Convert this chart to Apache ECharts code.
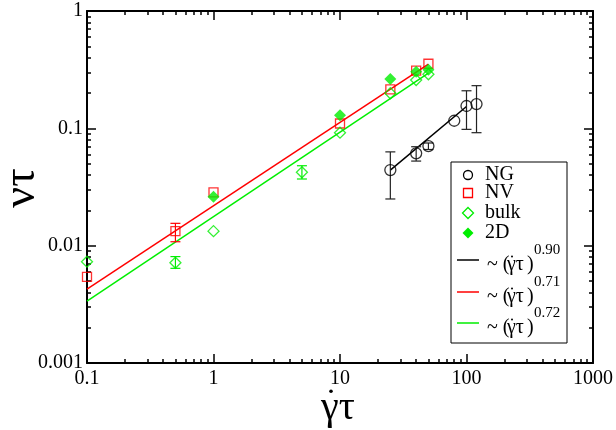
<!DOCTYPE html>
<html>
<head>
<meta charset="utf-8">
<script src="https://cdn.jsdelivr.net/npm/echarts@6/dist/echarts.min.js"></script>
<style>
html,body{margin:0;padding:0;background:#fff;}
#chart{width:616px;height:430px;}
</style>
</head>
<body>
<div id="chart"></div>
<script>
// ---- data ----
const xTicks = [0.1, 1, 10, 100, 1000];
const yTicks = [0.001, 0.01, 0.1, 1];

const ngX = [25, 40, 50, 80, 100, 120];
const ngY = [0.0441, 0.0612, 0.0706, 0.116, 0.155, 0.161];
const ngErrLo = [0.025, 0.0526, 0.066, null, 0.098, 0.0918];
const ngErrHi = [0.063, 0.0697, 0.075, null, 0.209, 0.231];

const nvX = [0.1, 0.5, 1, 10, 25, 40, 50];
const nvY = [0.00543, 0.0133, 0.0285, 0.110, 0.215, 0.31, 0.355];
const nvErrLo = [null, 0.0108, null, null, null, null, null];
const nvErrHi = [null, 0.0155, null, null, null, null, null];

const bulkX = [0.1, 0.5, 1, 5, 10, 25, 40, 50];
const bulkY = [0.0073, 0.00715, 0.0133, 0.0422, 0.0918, 0.199, 0.258, 0.289];
const bulkErrLo = [null, 0.00641, null, 0.037, null, null, null, null];
const bulkErrHi = [null, 0.00807, null, 0.048, null, null, null, null];

const d2X = [1, 10, 25, 40, 50];
const d2Y = [0.0261, 0.129, 0.263, 0.304, 0.316];

// fitted power laws (end points)
const fitNG = [[25, 0.0441], [100, 0.1536]];     // ~ x^0.90
const fitNV = [[0.1, 0.00427], [50, 0.352]];     // ~ x^0.71
const fitBulk = [[0.1, 0.00337], [50, 0.296]];   // ~ x^0.72

const legendNames = ['NG', 'NV', 'bulk', '2D'];
const fitExponents = ['0.90', '0.71', '0.72'];

// ---- helpers ----
function minorOf(majors) {
  const out = [];
  for (let i = 0; i < majors.length - 1; i++) {
    for (let k = 2; k <= 9; k++) out.push(+(majors[i] * k).toPrecision(6));
  }
  return out;
}
const xMinor = minorOf(xTicks);
const yMinor = minorOf(yTicks);

function zip(xs, ys) { return xs.map((x, i) => [x, ys[i]]); }
function errData(xs, lo, hi) {
  const out = [];
  xs.forEach((x, i) => { if (lo[i] != null) out.push([x, lo[i], hi[i]]); });
  return out;
}

const FONT = 'Liberation Serif';
const GREEN = '#00ee00';
const RED = '#ff0000';

function mkX(pos, major, labels) {
  return {
    type: 'log', logBase: 10, min: 0.1, max: 1000, position: pos,
    axisLine: { show: major, lineStyle: { color: '#000', width: 2 } },
    axisTick: { show: true, inside: true, length: major ? 9 : 4, customValues: major ? xTicks : xMinor,
      lineStyle: { color: '#000', width: 1.5 } },
    axisLabel: { show: labels, customValues: xTicks, fontFamily: FONT, fontSize: 20, color: '#000', margin: 6,
      formatter: v => String(v) },
    splitLine: { show: false }, minorTick: { show: false }
  };
}
function mkY(pos, major, labels) {
  return {
    type: 'log', logBase: 10, min: 0.001, max: 1, position: pos,
    axisLine: { show: major, lineStyle: { color: '#000', width: 2 } },
    axisTick: { show: true, inside: true, length: major ? 9 : 4, customValues: major ? yTicks : yMinor,
      lineStyle: { color: '#000', width: 1.5 } },
    axisLabel: { show: labels, customValues: yTicks, fontFamily: FONT, fontSize: 20, color: '#000', margin: 4,
      formatter: v => String(v) },
    splitLine: { show: false }, minorTick: { show: false }
  };
}

function errSeries(data, color) {
  return {
    type: 'custom', xAxisIndex: 0, yAxisIndex: 0, data: data, z: 3,
    encode: { x: 0, y: [1, 2] },
    renderItem: function (params, api) {
      const x = api.value(0);
      const pLo = api.coord([x, api.value(1)]);
      const pHi = api.coord([x, api.value(2)]);
      const w = 5;
      const st = { stroke: color, lineWidth: 1.2 };
      return { type: 'group', children: [
        { type: 'line', shape: { x1: pLo[0], y1: pLo[1], x2: pHi[0], y2: pHi[1] }, style: st },
        { type: 'line', shape: { x1: pLo[0] - w, y1: pLo[1], x2: pLo[0] + w, y2: pLo[1] }, style: st },
        { type: 'line', shape: { x1: pHi[0] - w, y1: pHi[1], x2: pHi[0] + w, y2: pHi[1] }, style: st }
      ]};
    }
  };
}
function scatter(name, data, symbol, size, color, filled) {
  return {
    name: name, type: 'scatter', data: data, symbol: symbol, symbolSize: size, z: 4,
    itemStyle: { color: filled ? color : 'rgba(0,0,0,0)', borderColor: color, borderWidth: filled ? 0 : 1.3 },
    emphasis: { disabled: true }
  };
}
function fit(data, color) {
  return { type: 'line', data: data, showSymbol: false, symbol: 'none', z: 2,
    lineStyle: { color: color, width: 1.5 }, emphasis: { disabled: true } };
}

// "γ̇τ" drawn as γτ plus a dot above the γ
function gammaDotTau(x, y, size, z) {
  return [
    { type: 'text', x: x, y: y, z: z,
      style: { text: '\u03B3\u03C4', fontFamily: FONT, fontSize: size, fill: '#000', verticalAlign: 'middle', align: 'left' } },
    { type: 'circle', shape: { cx: x + size * 0.25, cy: y - size * 0.42, r: Math.max(1, size * 0.045) }, style: { fill: '#000' }, z: z }
  ];
}

// ---- legend + axis titles (graphic) ----
const LX = 451, LY = 162, LW = 116, LH = 181;
const symX = 468, txtX = 485;
const legSymY = [175, 193, 213, 233];
const legLineY = [260, 292, 323];
const G = [
  { type: 'rect', shape: { x: LX, y: LY, width: LW, height: LH }, style: { fill: '#fff', stroke: '#000', lineWidth: 1 }, z: 10 },
  { type: 'circle', shape: { cx: symX, cy: legSymY[0], r: 4.5 }, style: { fill: 'none', stroke: '#000', lineWidth: 1.3 }, z: 11 },
  { type: 'rect', shape: { x: symX - 4.5, y: legSymY[1] - 4.5, width: 9, height: 9 }, style: { fill: 'none', stroke: RED, lineWidth: 1.3 }, z: 11 },
  { type: 'polygon', shape: { points: [[symX, legSymY[2] - 5.5], [symX + 5.5, legSymY[2]], [symX, legSymY[2] + 5.5], [symX - 5.5, legSymY[2]]] }, style: { fill: 'none', stroke: GREEN, lineWidth: 1.3 }, z: 11 },
  { type: 'polygon', shape: { points: [[symX, legSymY[3] - 5.5], [symX + 5.5, legSymY[3]], [symX, legSymY[3] + 5.5], [symX - 5.5, legSymY[3]]] }, style: { fill: GREEN }, z: 11 }
];
legendNames.forEach((n, i) => {
  G.push({ type: 'text', x: txtX, y: legSymY[i], z: 11,
    style: { text: n, fontFamily: FONT, fontSize: 20, fill: '#000', verticalAlign: 'middle', align: 'left' } });
});
const fitColors = ['#000', RED, GREEN];
fitExponents.forEach((e, i) => {
  const y = legLineY[i];
  G.push({ type: 'line', shape: { x1: 457, y1: y, x2: 479, y2: y }, style: { stroke: fitColors[i], lineWidth: 1.5 }, z: 11 });
  G.push({ type: 'text', x: 487, y: y + 5, z: 11,
    style: { text: '~ (', fontFamily: FONT, fontSize: 20, fill: '#000', verticalAlign: 'middle', align: 'left' } });
  G.push(...gammaDotTau(507, y + 5, 20, 11));
  G.push({ type: 'text', x: 527, y: y + 5, z: 11,
    style: { text: ')', fontFamily: FONT, fontSize: 20, fill: '#000', verticalAlign: 'middle', align: 'left' } });
  G.push({ type: 'text', x: 534, y: y - 10, z: 11,
    style: { text: e, fontFamily: FONT, fontSize: 15, fill: '#000', verticalAlign: 'middle', align: 'left' } });
});
// x axis title
G.push(...gammaDotTau(321, 408, 40, 11));
// y axis title (rotated, reading bottom to top)
G.push({ type: 'text', x: 22, y: 188, rotation: Math.PI / 2, z: 11,
  style: { text: '\u03BD\u03C4', fontFamily: FONT, fontSize: 46, fill: '#000', verticalAlign: 'middle', align: 'center' } });

const chart = echarts.init(document.getElementById('chart'), null, { renderer: 'canvas' });
chart.setOption({
  animation: false,
  backgroundColor: '#fff',
  grid: { left: 87, right: 23, top: 11, bottom: 67, containLabel: false, outerBoundsMode: 'none' },
  xAxis: [mkX('bottom', true, true), mkX('top', true, false), mkX('bottom', false, false), mkX('top', false, false)],
  yAxis: [mkY('left', true, true), mkY('right', true, false), mkY('left', false, false), mkY('right', false, false)],
  series: [
    fit(fitNG, '#000'),
    fit(fitNV, RED),
    fit(fitBulk, GREEN),
    errSeries(errData(ngX, ngErrLo, ngErrHi), '#222'),
    errSeries(errData(nvX, nvErrLo, nvErrHi), RED),
    errSeries(errData(bulkX, bulkErrLo, bulkErrHi), GREEN),
    scatter('NG', zip(ngX, ngY), 'circle', 11, '#000', false),
    scatter('NV', zip(nvX, nvY), 'rect', 9, RED, false),
    scatter('bulk', zip(bulkX, bulkY), 'diamond', 11, GREEN, false),
    scatter('2D', zip(d2X, d2Y), 'diamond', 12, GREEN, true)
  ],
  graphic: G
});
</script>
</body>
</html>
